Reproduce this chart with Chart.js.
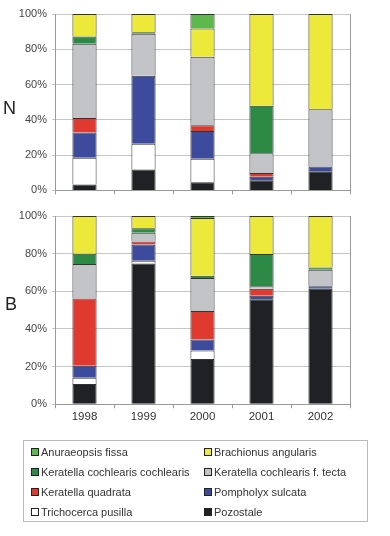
<!DOCTYPE html>
<html>
<head>
<meta charset="utf-8">
<script src="https://cdn.jsdelivr.net/npm/chart.js@4/dist/chart.umd.min.js"></script>
<style>
    body { margin: 0; background: #fff; font-family: "Liberation Sans", Arial, sans-serif; }
    #wrap { position: relative; width: 390px; height: 536px; }
    canvas { position: absolute; left: 0; }
    .panel-label { position: absolute; font-size: 18px; color: #222; line-height: 1; }
    #legend {
        position: absolute; left: 23px; top: 440px; width: 343px; height: 79px;
        border: 1px solid #bbb; box-sizing: content-box;
        display: grid; grid-template-columns: 173px 170px; grid-auto-rows: 20px;
        padding-top: 1px; font-size: 11px; color: #333;
    }
    #legend .item { display: flex; align-items: center; padding-left: 7px; white-space: nowrap; }
    #legend .box { width: 6px; height: 6px; border: 1px solid #222; margin-right: 2px; flex: none; }
</style>
</head>
<body>
<div id="wrap">
    <canvas id="chartN" width="390" height="202" style="top:0"></canvas>
    <canvas id="chartB" width="390" height="226" style="top:200px"></canvas>
    <div class="panel-label" style="left:3px; top:99px">N</div>
    <div class="panel-label" style="left:5px; top:295px">B</div>
    <div id="legend"></div>
</div>
<script>
// categories
const years = ['1998', '1999', '2000', '2001', '2002'];
const yTicks = [0, 20, 40, 60, 80, 100];

// species, stacked from bottom to top
const species = [
    'Pozostale',
    'Trichocerca pusilla',
    'Pompholyx sulcata',
    'Keratella quadrata',
    'Keratella cochlearis f. tecta',
    'Keratella cochlearis cochlearis',
    'Brachionus angularis',
    'Anuraeopsis fissa'
];
const speciesColors = ['#1f2124', '#ffffff', '#3c4b9c', '#e03a30', '#c2c4c8', '#2c8a44', '#ede93a', '#5db94d'];

// N panel (%)
const pozostaleN    = [3.3, 11.9, 4.6, 5.7, 10.8];
const trichocercaN  = [15.2, 14.5, 13.3, 0, 0];
const pompholyxN    = [14.3, 38.6, 15.8, 2.0, 2.8];
const quadrataN     = [8.2, 0, 3.3, 2.2, 0];
const tectaN        = [42.2, 23.8, 38.8, 11.2, 32.4];
const cochlearisN   = [4.0, 0.8, 0, 26.9, 0];
const brachionusN   = [12.8, 10.4, 16.0, 52.0, 54.0];
const anuraeopsisN  = [0, 0, 8.2, 0, 0];

// B panel (%)
const pozostaleB    = [10.7, 74.7, 24.0, 55.8, 61.3];
const trichocercaB  = [3.3, 1.5, 4.5, 0, 0];
const pompholyxB    = [6.4, 8.7, 5.9, 1.8, 1.4];
const quadrataB     = [35.8, 1.5, 15.1, 3.7, 0];
const tectaB        = [18.3, 4.7, 17.6, 1.4, 8.8];
const cochlearisB   = [5.5, 2.4, 1.1, 17.1, 1.2];
const brachionusB   = [20.0, 6.5, 30.7, 20.2, 27.3];
const anuraeopsisB  = [0, 0, 1.1, 0, 0];

const seriesN = [pozostaleN, trichocercaN, pompholyxN, quadrataN, tectaN, cochlearisN, brachionusN, anuraeopsisN];
const seriesB = [pozostaleB, trichocercaB, pompholyxB, quadrataB, tectaB, cochlearisB, brachionusB, anuraeopsisB];

// legend order as in the figure (two columns)
const legendOrder = [7, 6, 5, 4, 3, 2, 1, 0];

const FONT = "'Liberation Sans', Arial, sans-serif";

function buildDatasets(series) {
    return series.map((values, i) => ({
        label: species[i],
        data: values,
        backgroundColor: speciesColors[i],
        borderColor: '#333333',
        borderWidth: 1,
        borderSkipped: 'start',
        barPercentage: 0.41,
        categoryPercentage: 1.0
    }));
}

function makePanel(id, series, showYears, padTop) {
    new Chart(document.getElementById(id), {
        type: 'bar',
        data: { labels: years, datasets: buildDatasets(series) },
        options: {
            responsive: false,
            animation: false,
            layout: { padding: { top: padTop, left: 0, right: 0, bottom: 0 } },
            plugins: { legend: { display: false }, tooltip: { enabled: false } },
            scales: {
                x: {
                    stacked: true,
                    grid: { display: true, drawOnChartArea: false, offset: true, tickLength: 4, color: '#9a9a9a' },
                    border: { display: true, color: '#9a9a9a' },
                    ticks: { display: showYears, color: '#333', font: { family: FONT, size: 11.5 }, padding: 2 }
                },
                y: {
                    stacked: true,
                    min: 0,
                    max: 100,
                    afterFit: scale => { scale.width = 55; },
                    afterBuildTicks: scale => { scale.ticks = yTicks.map(v => ({ value: v })); },
                    grid: { color: '#c6c6c6', drawTicks: true, tickLength: 3 },
                    border: { display: true, color: '#9a9a9a' },
                    ticks: { color: '#444', font: { family: FONT, size: 11 }, padding: 5, callback: v => v + '%' }
                },
                yRight: {
                    position: 'right',
                    min: 0,
                    max: 100,
                    afterFit: scale => { scale.width = 40; },
                    grid: { drawOnChartArea: false, drawTicks: false },
                    border: { display: true, color: '#9a9a9a' },
                    ticks: { display: false }
                }
            }
        }
    });
}

makePanel('chartN', seriesN, false, 14);
makePanel('chartB', seriesB, true, 16);

// legend box
const legendEl = document.getElementById('legend');
legendOrder.forEach(i => {
    const item = document.createElement('div');
    item.className = 'item';
    const box = document.createElement('span');
    box.className = 'box';
    box.style.background = speciesColors[i];
    item.appendChild(box);
    item.appendChild(document.createTextNode(species[i]));
    legendEl.appendChild(item);
});
</script>
</body>
</html>
